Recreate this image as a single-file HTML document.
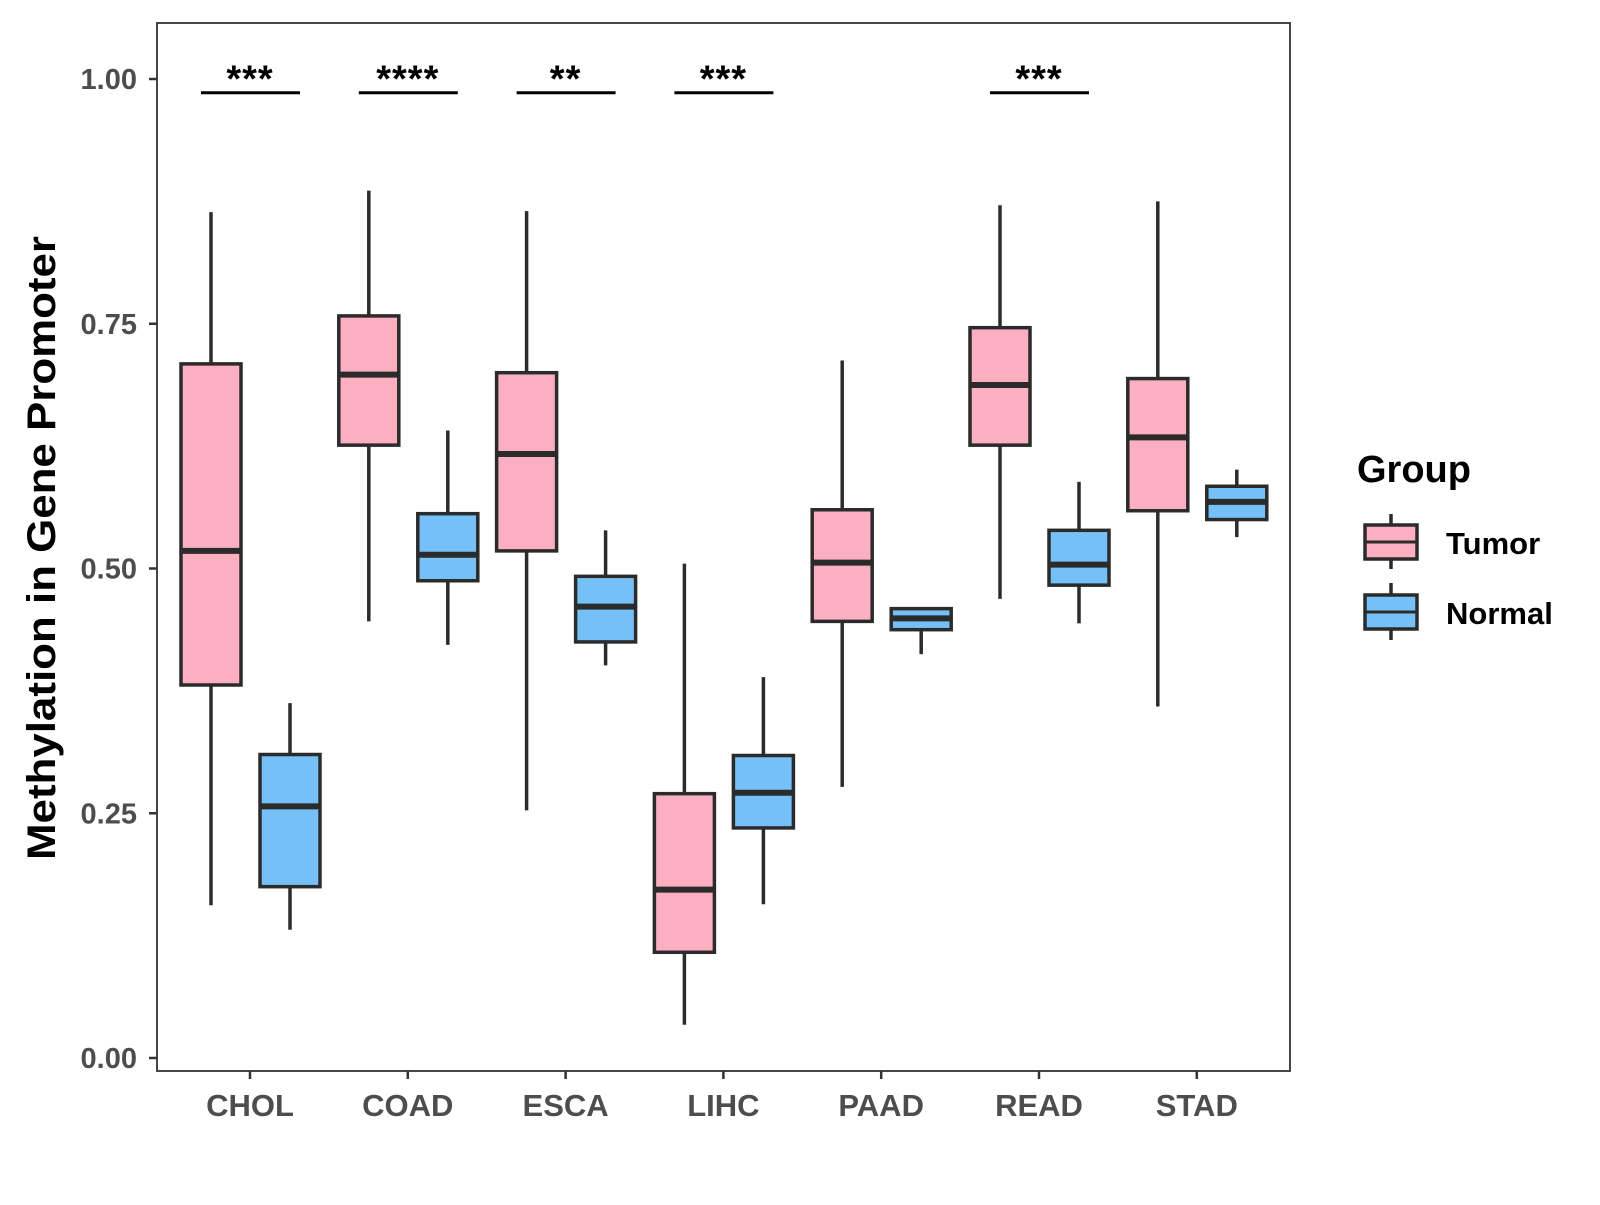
<!DOCTYPE html>
<html><head><meta charset="utf-8"><style>
body{margin:0;background:#fff}
svg text{font-family:"Liberation Sans",Arial,sans-serif;font-weight:bold}
</style></head><body>
<svg id="chart" width="1600" height="1200" xmlns="http://www.w3.org/2000/svg">
<rect x="0" y="0" width="1600" height="1200" fill="#fff"/>
<rect x="157" y="23" width="1133" height="1048" fill="none" stroke="#333" stroke-width="1.8"/>
<g id="yaxis"></g><g id="xaxis"></g><g id="boxes"></g><g id="sig"></g>
<text transform="translate(55,548) rotate(-90)" text-anchor="middle" font-size="40" textLength="624" lengthAdjust="spacingAndGlyphs" fill="#000">Methylation in Gene Promoter</text>
<g>
<text x="1357" y="482" font-size="38" fill="#000">Group</text>
<g>
<line x1="1391" y1="514" x2="1391" y2="569" stroke="#2b2b2b" stroke-width="3.5"/>
<rect x="1365" y="525" width="52" height="34" fill="#FBAFC1" stroke="#2b2b2b" stroke-width="3.5"/>
<line x1="1365" y1="542" x2="1417" y2="542" stroke="#2b2b2b" stroke-width="3"/>
<text x="1446" y="554" font-size="31" fill="#000">Tumor</text></g>
<g>
<line x1="1391" y1="583" x2="1391" y2="640" stroke="#2b2b2b" stroke-width="3.5"/>
<rect x="1365" y="595" width="52" height="34" fill="#74C0F7" stroke="#2b2b2b" stroke-width="3.5"/>
<line x1="1365" y1="612" x2="1417" y2="612" stroke="#2b2b2b" stroke-width="3"/>
<text x="1446" y="624" font-size="31" fill="#000">Normal</text></g>
</g>
</svg>
<script>
const categories=["CHOL","COAD","ESCA","LIHC","PAAD","READ","STAD"];
// [lowWhisker, q1, median, q3, highWhisker]
const tumorStats=[[0.156,0.381,0.518,0.709,0.864],[0.446,0.626,0.698,0.758,0.886],[0.253,0.518,0.617,0.700,0.865],[0.034,0.108,0.172,0.270,0.505],[0.277,0.446,0.506,0.560,0.7125],[0.469,0.626,0.6875,0.746,0.871],[0.359,0.559,0.634,0.694,0.875]];
const normalStats=[[0.131,0.175,0.257,0.310,0.3625],[0.422,0.4875,0.514,0.556,0.641],[0.401,0.425,0.461,0.492,0.539],[0.157,0.235,0.271,0.309,0.389],[0.4125,0.4375,0.449,0.459,0.460],[0.444,0.483,0.504,0.539,0.5885],[0.532,0.550,0.568,0.584,0.601]];
const sigLabels=["***","****","**","***","","***",""];
const yTicks=[0,0.25,0.5,0.75,1.0];
const yTickLabels=["0.00","0.25","0.50","0.75","1.00"];
const NS="http://www.w3.org/2000/svg";
const y=v=>1058-v*979;
const x=i=>250+i*157.8;
function mk(tag,attrs,parent,txt){const e=document.createElementNS(NS,tag);for(const k in attrs)e.setAttribute(k,attrs[k]);if(txt!==undefined)e.textContent=txt;parent.appendChild(e);return e;}
const ya=document.getElementById('yaxis');
yTicks.forEach((t,i)=>{
  const g=mk('g',{},ya);
  
  
  mk('line',{x1:149,x2:157,y1:y(t),y2:y(t),stroke:'#333','stroke-width':2.5},g);
  mk('text',{x:137,y:y(t)+10,'text-anchor':'end','font-size':29,fill:'#4d4d4d'},g,yTickLabels[i]);
});
const xa=document.getElementById('xaxis');
categories.forEach((c,i)=>{
  const g=mk('g',{},xa);
  
  
  mk('line',{x1:x(i),x2:x(i),y1:1071,y2:1079,stroke:'#333','stroke-width':2.5},g);
  mk('text',{x:x(i),y:1116,'text-anchor':'middle','font-size':31,fill:'#4d4d4d'},g,c);
});
const bx=document.getElementById('boxes');
function box(s,cx,fill,name){
  const g=mk('g',{},bx);
  
  
  const hw=30;
  mk('line',{x1:cx,x2:cx,y1:y(s[4]),y2:y(s[0]),stroke:'#2b2b2b','stroke-width':3.5},g);
  mk('rect',{x:cx-hw,y:y(s[3]),width:2*hw,height:y(s[1])-y(s[3]),fill:fill,stroke:'#2b2b2b','stroke-width':3.5},g);
  mk('line',{x1:cx-hw,x2:cx+hw,y1:y(s[2]),y2:y(s[2]),stroke:'#2b2b2b','stroke-width':6},g);
}
categories.forEach((c,i)=>{
  box(tumorStats[i],x(i)-39,'#FBAFC1','box-tumor-'+c.toLowerCase());
  box(normalStats[i],x(i)+40,'#74C0F7','box-normal-'+c.toLowerCase());
});
const sg=document.getElementById('sig');
sigLabels.forEach((l,i)=>{
  if(!l)return;
  const g=mk('g',{},sg);
  
  
  mk('line',{x1:x(i)-49,x2:x(i)+50,y1:y(0.986),y2:y(0.986),stroke:'#000','stroke-width':3},g);
  mk('text',{x:x(i),y:y(0.986)-1,'text-anchor':'middle','font-size':38,'letter-spacing':'1',fill:'#000'},g,l);
});
</script>
</body></html>
